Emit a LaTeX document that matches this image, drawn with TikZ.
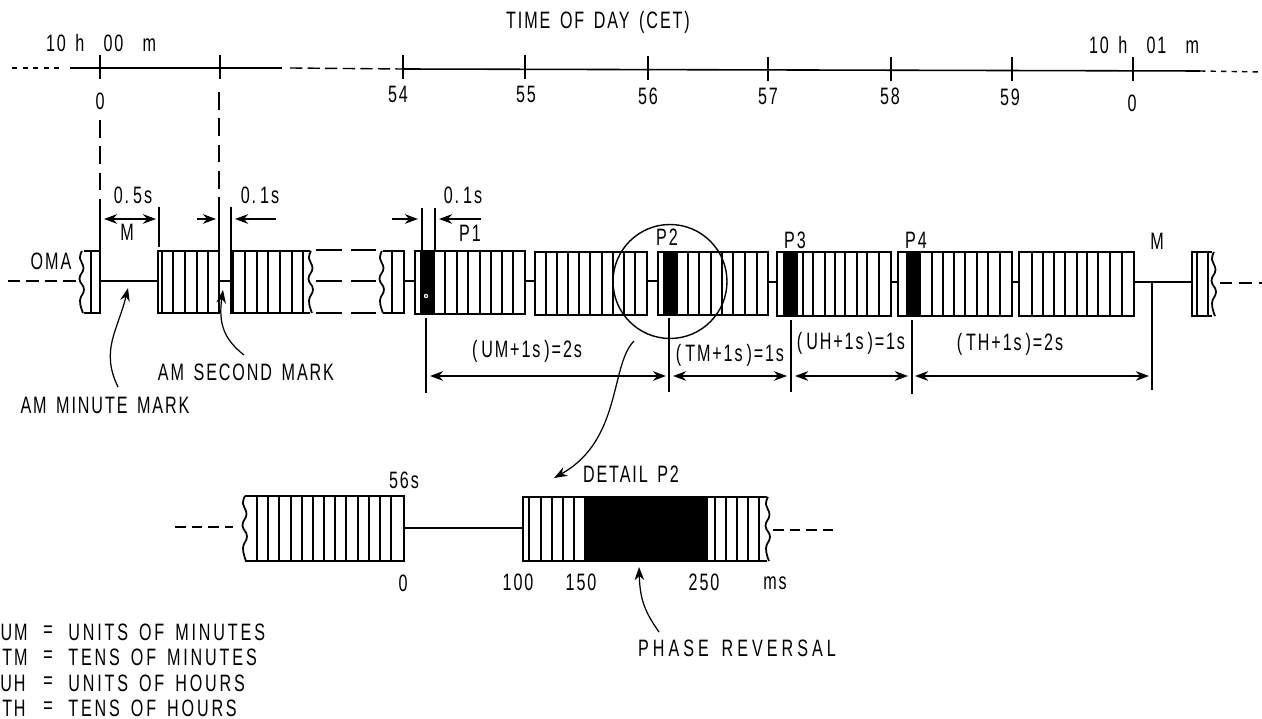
\documentclass[tikz,border=0pt]{standalone}
\usepackage{fontspec}
\setmainfont{Liberation Sans}[FakeStretch=0.68,LetterSpace=8,WordSpace=1.5]
\usetikzlibrary{arrows.meta}
\tikzset{
  lbl/.style={inner sep=0pt,font=\fontsize{13.5}{15}\selectfont},
  keylbl/.style={inner sep=0pt,font=\fontsize{13.5}{15}\selectfont\addfontfeature{LetterSpace=12}},
  widelbl/.style={inner sep=0pt,font=\fontsize{13.5}{15}\selectfont\addfontfeature{LetterSpace=17}},
  pulseline/.style={line width=1pt},
  thinline/.style={line width=.6pt},
  axisline/.style={line width=.9pt},
  axisdash/.style={line width=.8pt},
  carrier/.style={line width=1.7pt},
  brokenline/.style={line width=1.7pt,dash pattern=on 15pt off 5pt},
  longdash/.style={line width=.6pt,dash pattern=on 10pt off 5pt},
  dimarrow/.style={line width=.7pt,{Stealth[length=7.5pt,width=5.5pt]}-{Stealth[length=7.5pt,width=5.5pt]}},
  onearrow/.style={line width=.7pt,-{Stealth[length=7.5pt,width=5.5pt]}}
}
% ragged end of a cut pulse train
\newcommand{\ragedge}[3]{\draw[pulseline] plot[smooth,tension=.8] coordinates {(#1,#2) ({#1-2},{#2+.12*(#3-#2)}) ({#1+1.5},{#2+.28*(#3-#2)}) ({#1-2.5},{#2+.45*(#3-#2)}) ({#1+2},{#2+.62*(#3-#2)}) ({#1-2},{#2+.8*(#3-#2)}) ({#1+1},#3)};}
% x left, x right, y top, y bottom, carrier strokes
\newcommand{\pulseblock}[5]{\draw[pulseline] (#1,#3) rectangle (#2,#4);
\foreach \s in {#5} \draw[pulseline] (\s,#3) -- (\s,#4);}
\begin{document}
\begin{tikzpicture}[x=0.02cm,y=-0.02cm]
\useasboundingbox (0,0) rectangle (1262,719);
\fill[white] (0,0) rectangle (1262,719);

% time axis
\draw[axisdash,dashed] (12,68) -- (63,68);
\draw[axisline] (70,68) -- (282,68);
\draw[axisdash,dash pattern=on 7pt off 3pt] (290,68) -- (402,69);
\draw[axisline] (402,69) -- (1200,71);
\draw[axisdash,dashed] (1200,71) -- (1262,72);
\foreach \x/\y in {100/68,220/68,403/68,525/68,648/69,768/70,891/70,1012/70,1133/70}
  \draw[axisline] (\x,\y-13) -- (\x,\y+11);
\node[lbl] (timeday) at (598,22) {TIME OF DAY (CET)};
\node[lbl] (hstart) at (101,43) {10 h\ \ 00\ \ m};
\node[lbl] (hend) at (1144,45) {10 h\ \ 01\ \ m};
\node[lbl] (s0) at (100,101) {0};
\node[lbl] (s54) at (398,94) {54};
\node[lbl] (s55) at (526,94) {55};
\node[lbl] (s56) at (648,96) {56};
\node[lbl] (s57) at (768,96) {57};
\node[lbl] (s58) at (890,96) {58};
\node[lbl] (s59) at (1010,97) {59};
\node[lbl] (s60) at (1132,103) {0};
\draw[longdash] (100,120) -- (100,205);
\draw[longdash] (219,92) -- (219,207);

% dimension ticks above the train
\draw[thinline] (100,205) -- (100,251);
\draw[thinline] (159,207) -- (159,247);
\draw[thinline] (219,207) -- (219,251);
\draw[thinline] (231,207) -- (231,251);
\draw[thinline] (422,208) -- (422,251);
\draw[thinline] (435,208) -- (435,252);
\coordinate (ma) at (104,219);
\coordinate (mb) at (156,219);
\draw[dimarrow] (ma) -- (mb);
\coordinate (sa) at (197,219);
\coordinate (sb) at (216,219);
\draw[onearrow] (sa) -- (sb);
\coordinate (sc) at (276,219);
\coordinate (sd) at (235,219);
\draw[onearrow] (sc) -- (sd);
\coordinate (pa) at (392,219);
\coordinate (pb) at (418,219);
\draw[onearrow] (pa) -- (pb);
\coordinate (pc) at (481,219);
\coordinate (pd) at (439,219);
\draw[onearrow] (pc) -- (pd);
\node[lbl] (half) at (133,195) {0.\,5s};
\node[lbl] (mtop) at (127,232) {M};
\node[lbl] (tenth) at (260,195) {0.\,1s};
\node[lbl] (tenthb) at (463,195) {0.\,1s};
\node[lbl] (oma) at (51,261) {OMA};
\node[lbl] (pone) at (470,233) {P1};
\node[lbl] (ptwo) at (667,237) {P2};
\node[lbl] (pthree) at (795,240) {P3};
\node[lbl] (pfour) at (916,240) {P4};
\node[lbl] (mend) at (1157,241) {M};

% pulse train
\draw[brokenline,dash pattern=on 7pt off 3.5pt] (8,281) -- (76,281);
\ragedge{82}{251}{313}
\draw[pulseline] (84,251) -- (100,251) -- (100,313) -- (84,313);
\draw[pulseline] (91,251) -- (91,313);
\draw[carrier] (100,281) -- (158,281);
\pulseblock{158}{219}{251}{313}{162,173,185,197,208}
\draw[carrier] (219,281) -- (231,281);
\draw[pulseline] (310,251) -- (231,251) -- (231,313) -- (310,313);
\foreach \s in {233,245,257,268,280,292,303} \draw[pulseline] (\s,251) -- (\s,313);
\ragedge{311}{251}{313}
\draw[brokenline] (316,250) -- (376,250);
\draw[brokenline] (316,281) -- (376,281);
\draw[brokenline] (316,313) -- (376,313);
\ragedge{382}{251}{313}
\draw[pulseline] (383,251) -- (404,251) -- (404,313) -- (383,313);
\draw[pulseline] (392,251) -- (392,313);
\draw[carrier] (404,281) -- (415,281);
\fill (420,251) rectangle (435,314);
\fill[white] (426,296) circle[radius=2.2];
\fill (426,296) circle[radius=1];
\pulseblock{415}{525}{251}{314}{445,457,468,480,491,502,513}
\draw[carrier] (525,281) -- (535,281);
\pulseblock{535}{647}{252}{315}{546,557,568,579,590,602,613,624,635}
\draw[carrier] (647,281) -- (658,281);
\fill (663,252) rectangle (678,315);
\pulseblock{658}{768}{252}{315}{688,699,711,722,733,745,757}
\draw[carrier] (768,282) -- (777,282);
\fill (783,252) rectangle (798,316);
\pulseblock{777}{891}{252}{316}{803,813,825,835,845,857,867,879}
\draw[carrier] (891,282) -- (898,282);
\fill (906,252) rectangle (921,316);
\pulseblock{898}{1012}{252}{316}{932,943,954,965,977,988,1000}
\draw[carrier] (1012,282) -- (1019,282);
\pulseblock{1019}{1134}{252}{316}{1032,1043,1054,1065,1077,1087,1098,1110,1122}
\draw[carrier] (1134,282) -- (1192,282);
\draw[pulseline] (1212,252) -- (1192,252) -- (1192,316) -- (1212,316);
\draw[pulseline] (1197,252) -- (1197,316);
\draw[pulseline] (1208,252) -- (1208,316);
\ragedge{1214}{252}{316}
\draw[brokenline,dash pattern=on 7pt off 4pt] (1220,283) -- (1262,283);
\node[lbl,draw,circle,line width=.8pt,minimum size=2.28cm] (glass) at (670,281.5) {};

% dimensions below the train
\draw[thinline] (426,318) -- (426,393);
\draw[thinline] (669,318) -- (669,392);
\draw[thinline] (791,320) -- (791,392);
\draw[thinline] (912,320) -- (912,394);
\draw[thinline] (1152,282) -- (1152,390);
\coordinate (ua) at (430,376);
\coordinate (ub) at (666,376);
\coordinate (ta) at (673,376);
\coordinate (tb) at (787,376);
\coordinate (va) at (795,376);
\coordinate (vb) at (908,376);
\coordinate (wa) at (915,376);
\coordinate (wb) at (1149,376);
\draw[dimarrow] (ua) -- (ub);
\draw[dimarrow] (ta) -- (tb);
\draw[dimarrow] (va) -- (vb);
\draw[dimarrow] (wa) -- (wb);
\node[lbl] (um) at (527,351) {(\,UM+1s\,)=2s};
\node[lbl] (tm) at (730,355) {(\,TM+1s\,)=1s};
\node[lbl] (uh) at (851,343) {(\,UH+1s\,)=1s};
\node[lbl] (th) at (1010,344) {(\,TH+1s\,)=2s};

% am marks
\coordinate (mtail) at (118,387);
\coordinate (mhead) at (128,288);
\draw[onearrow] (mtail) .. controls (100,350) and (118,330) .. (mhead);
\coordinate (stail) at (244,355);
\coordinate (shead) at (223,290);
\draw[onearrow] (stail) .. controls (225,340) and (218,325) .. (shead);
\node[lbl] (ammin) at (105,405) {AM MINUTE MARK};
\node[lbl] (amsec) at (246,372) {AM SECOND MARK};

% detail
\coordinate (dtail) at (634,341);
\coordinate (dhead) at (554,478);
\draw[onearrow] (dtail) .. controls (610,365) and (622,440) .. (dhead);
\node[lbl] (detail) at (631,474) {DETAIL P2};
\node[lbl] (sec) at (404,480) {56s};
\draw[brokenline,dash pattern=on 6pt off 3.5pt] (175,527) -- (233,527);
\draw[pulseline] (245,496) -- (404,496) -- (404,561) -- (245,561);
\ragedge{245}{496}{561}
\foreach \s in {257,268,279,291,302,313,324,335,346,358,369,380,391} \draw[pulseline] (\s,496) -- (\s,561);
\draw[carrier,line width=1.3pt] (404,528) -- (523,528);
\draw[pulseline] (767,497) -- (523,497) -- (523,561) -- (767,561);
\ragedge{768}{497}{561}
\foreach \s in {529,541,552,563,574,715,726,737,748,759} \draw[pulseline] (\s,497) -- (\s,561);
\fill (584,497) rectangle (708,561);
\draw[brokenline,dash pattern=on 6pt off 3.5pt] (773,530) -- (833,530);
\node[lbl] (dzero) at (403,583) {0};
\node[lbl] (dhundred) at (518,582) {100};
\node[lbl] (dfifty) at (581,582) {150};
\node[lbl] (dtwofifty) at (704,582) {250};
\node[lbl] (dms) at (775,583) {ms};
\coordinate (ptail) at (659,632);
\coordinate (phead) at (639,567);
\draw[onearrow] (ptail) .. controls (645,612) and (640,600) .. (phead);
\node[widelbl] (phase) at (737,648) {PHASE REVERSAL};

% key
\node[lbl,anchor=east] (keyum) at (28,632) {UM};
\node[lbl,anchor=east] (keytm) at (28,657) {TM};
\node[lbl,anchor=east] (keyuh) at (26,683) {UH};
\node[lbl,anchor=east] (keyth) at (26,708) {TH};
\foreach \n/\y in {a/632,b/657,c/683,d/708} \node[lbl] (eq\n) at (48,\y) {=};
\node[keylbl,anchor=west] (keya) at (68,632) {UNITS OF MINUTES};
\node[keylbl,anchor=west] (keyb) at (68,657) {TENS OF MINUTES};
\node[keylbl,anchor=west] (keyc) at (68,683) {UNITS OF HOURS};
\node[keylbl,anchor=west] (keyd) at (68,708) {TENS OF HOURS};
\end{tikzpicture}
\end{document}
